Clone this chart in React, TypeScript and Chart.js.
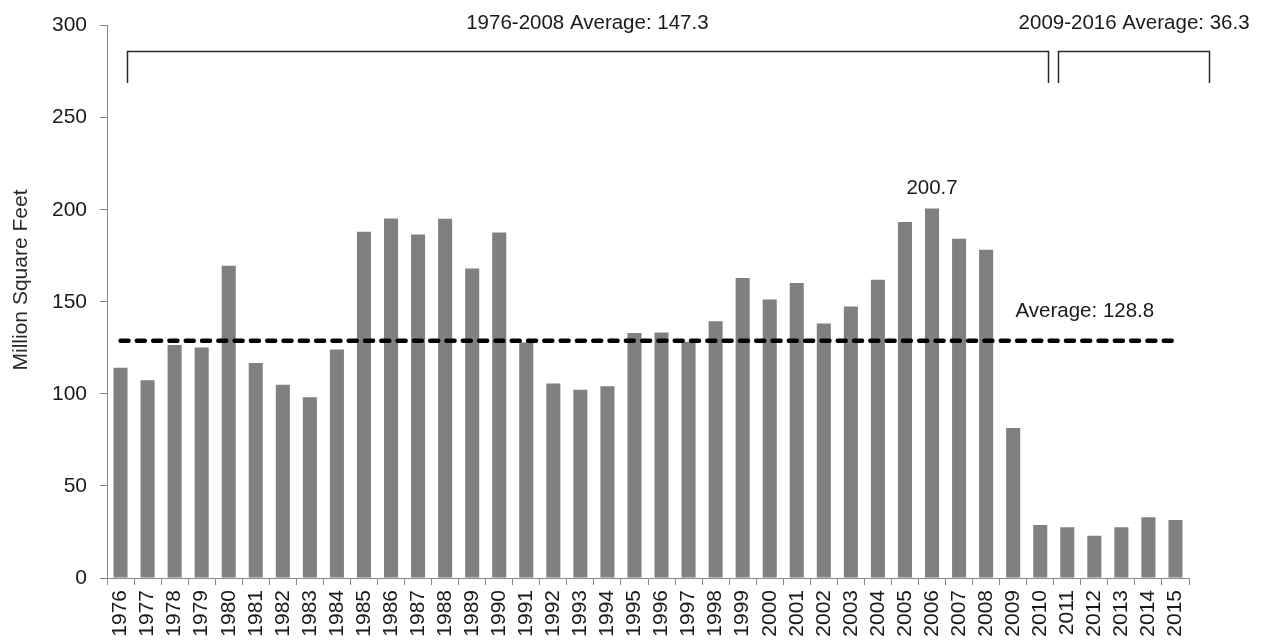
import React, { useEffect, useRef } from "react";
import { Chart, registerables } from "chart.js";

Chart.register(...registerables);

const years = [
  "1976", "1977", "1978", "1979", "1980", "1981", "1982", "1983", "1984", "1985",
  "1986", "1987", "1988", "1989", "1990", "1991", "1992", "1993", "1994", "1995",
  "1996", "1997", "1998", "1999", "2000", "2001", "2002", "2003", "2004", "2005",
  "2006", "2007", "2008", "2009", "2010", "2011", "2012", "2013", "2014", "2015",
];

const squareFeet = [
  114.2, 107.4, 126.5, 125.2, 169.6, 116.8, 105.0, 98.2, 124.1, 188.1,
  195.3, 186.6, 195.1, 168.1, 187.6, 127.9, 105.6, 102.2, 104.1, 133.0,
  133.3, 128.3, 139.5, 162.9, 151.2, 160.2, 138.2, 147.4, 162.0, 193.4,
  200.7, 184.3, 178.2, 81.4, 28.8, 27.6, 22.9, 27.6, 33.0, 31.5,
];

const overallAverage = 128.8;
const averageLabel = "Average: 128.8";
const peakLabel = "200.7";
const peakYear = "2006";

const periodLabels = ["1976-2008 Average: 147.3", "2009-2016 Average: 36.3"];

const yTicks = [0, 50, 100, 150, 200, 250, 300];
const yTitle = "Million Square Feet";

// annotation geometry (in scale units)
const bracketSpans = [
  [0.24, 34.28],
  [34.67, 40.25],
];
const bracketTopValue = 286;
const bracketBottomValue = 268.8;
const periodLabelCenters = [17.26, 37.47];
const periodLabelValue = 301;

const FONT = '"Liberation Sans", Arial, Helvetica, sans-serif';

const annotationPlugin = {
  id: "annotations",
  afterDatasetsDraw(chart: any) {
    const { ctx } = chart;
    const x = chart.scales.x;
    const y = chart.scales.y;
    ctx.save();

    // brackets
    ctx.strokeStyle = "#2a2a2a";
    ctx.lineWidth = 1.5;
    const yt = y.getPixelForValue(bracketTopValue);
    const yb = y.getPixelForValue(bracketBottomValue);
    bracketSpans.forEach(([a, b]) => {
      const x1 = Math.round(x.getPixelForValue(a)) + 0.5;
      const x2 = Math.round(x.getPixelForValue(b)) + 0.5;
      ctx.beginPath();
      ctx.moveTo(x1, yb);
      ctx.lineTo(x1, yt);
      ctx.lineTo(x2, yt);
      ctx.lineTo(x2, yb);
      ctx.stroke();
    });

    ctx.fillStyle = "#1a1a1a";
    ctx.font = `20.5px ${FONT}`;
    ctx.textAlign = "center";
    ctx.textBaseline = "middle";
    periodLabels.forEach((t, i) => {
      ctx.fillText(t, x.getPixelForValue(periodLabelCenters[i]), y.getPixelForValue(periodLabelValue));
    });

    // peak label
    const pi = years.indexOf(peakYear);
    ctx.fillText(peakLabel, x.getPixelForValue(pi), y.getPixelForValue(squareFeet[pi]) - 20);

    // average label
    ctx.fillText(averageLabel, x.getPixelForValue(35.65), y.getPixelForValue(overallAverage) - 29);

    // y title
    ctx.save();
    ctx.translate(21, 280);
    ctx.rotate(-Math.PI / 2);
    ctx.font = `21px ${FONT}`;
    ctx.fillStyle = "#2a2a2a";
    ctx.fillText(yTitle, 0, 0);
    ctx.restore();

    ctx.restore();
  },
};

export default function App() {
  const canvasRef = useRef<HTMLCanvasElement | null>(null);

  useEffect(() => {
    const canvas = canvasRef.current;
    if (!canvas) return;
    const chart = new Chart(canvas, {
      type: "bar",
      data: {
        labels: years,
        datasets: [
          {
            type: "line",
            label: "Average",
            data: years.map(() => overallAverage),
            borderColor: "#000000",
            borderWidth: 4.5,
            borderDash: [8, 8.3],
            borderCapStyle: "round",
            pointRadius: 0,
            fill: false,
            order: 0,
          } as any,
          {
            type: "bar",
            label: "Million Square Feet",
            data: squareFeet,
            backgroundColor: "#808080",
            borderWidth: 0,
            categoryPercentage: 1,
            barPercentage: 0.52,
            order: 1,
          },
        ],
      },
      options: {
        responsive: false,
        animation: false,
        devicePixelRatio: 1,
        layout: { padding: { top: 23, right: 78, left: 0, bottom: 0 } },
        plugins: {
          legend: { display: false },
          tooltip: { enabled: false },
          title: { display: false },
        },
        scales: {
          x: {
            offset: true,
            grid: {
              offset: true,
              drawOnChartArea: false,
              drawTicks: true,
              tickLength: 7,
              color: "#888888",
            },
            border: { color: "#888888", width: 1 },
            ticks: {
              minRotation: 90,
              maxRotation: 90,
              autoSkip: false,
              padding: 5,
              color: "#1a1a1a",
              font: { family: FONT, size: 21 },
            },
            afterFit: (scale: any) => {
              scale.height = 62;
            },
          },
          y: {
            min: 0,
            max: 300,
            afterBuildTicks: (scale: any) => {
              scale.ticks = yTicks.map((v) => ({ value: v }));
            },
            grid: {
              drawOnChartArea: false,
              drawTicks: true,
              tickLength: 7,
              color: "#888888",
            },
            border: { color: "#888888", width: 1 },
            ticks: {
              padding: 13,
              color: "#1a1a1a",
              font: { family: FONT, size: 21 },
            },
            afterFit: (scale: any) => {
              scale.width = 107;
            },
          },
        },
      },
      plugins: [annotationPlugin],
    });
    return () => chart.destroy();
  }, []);

  return (
    <div style={{ position: "fixed", left: 0, top: 0, width: 1267, height: 640, background: "#ffffff" }}>
      <canvas ref={canvasRef} width={1267} height={640} style={{ display: "block" }} />
    </div>
  );
}
